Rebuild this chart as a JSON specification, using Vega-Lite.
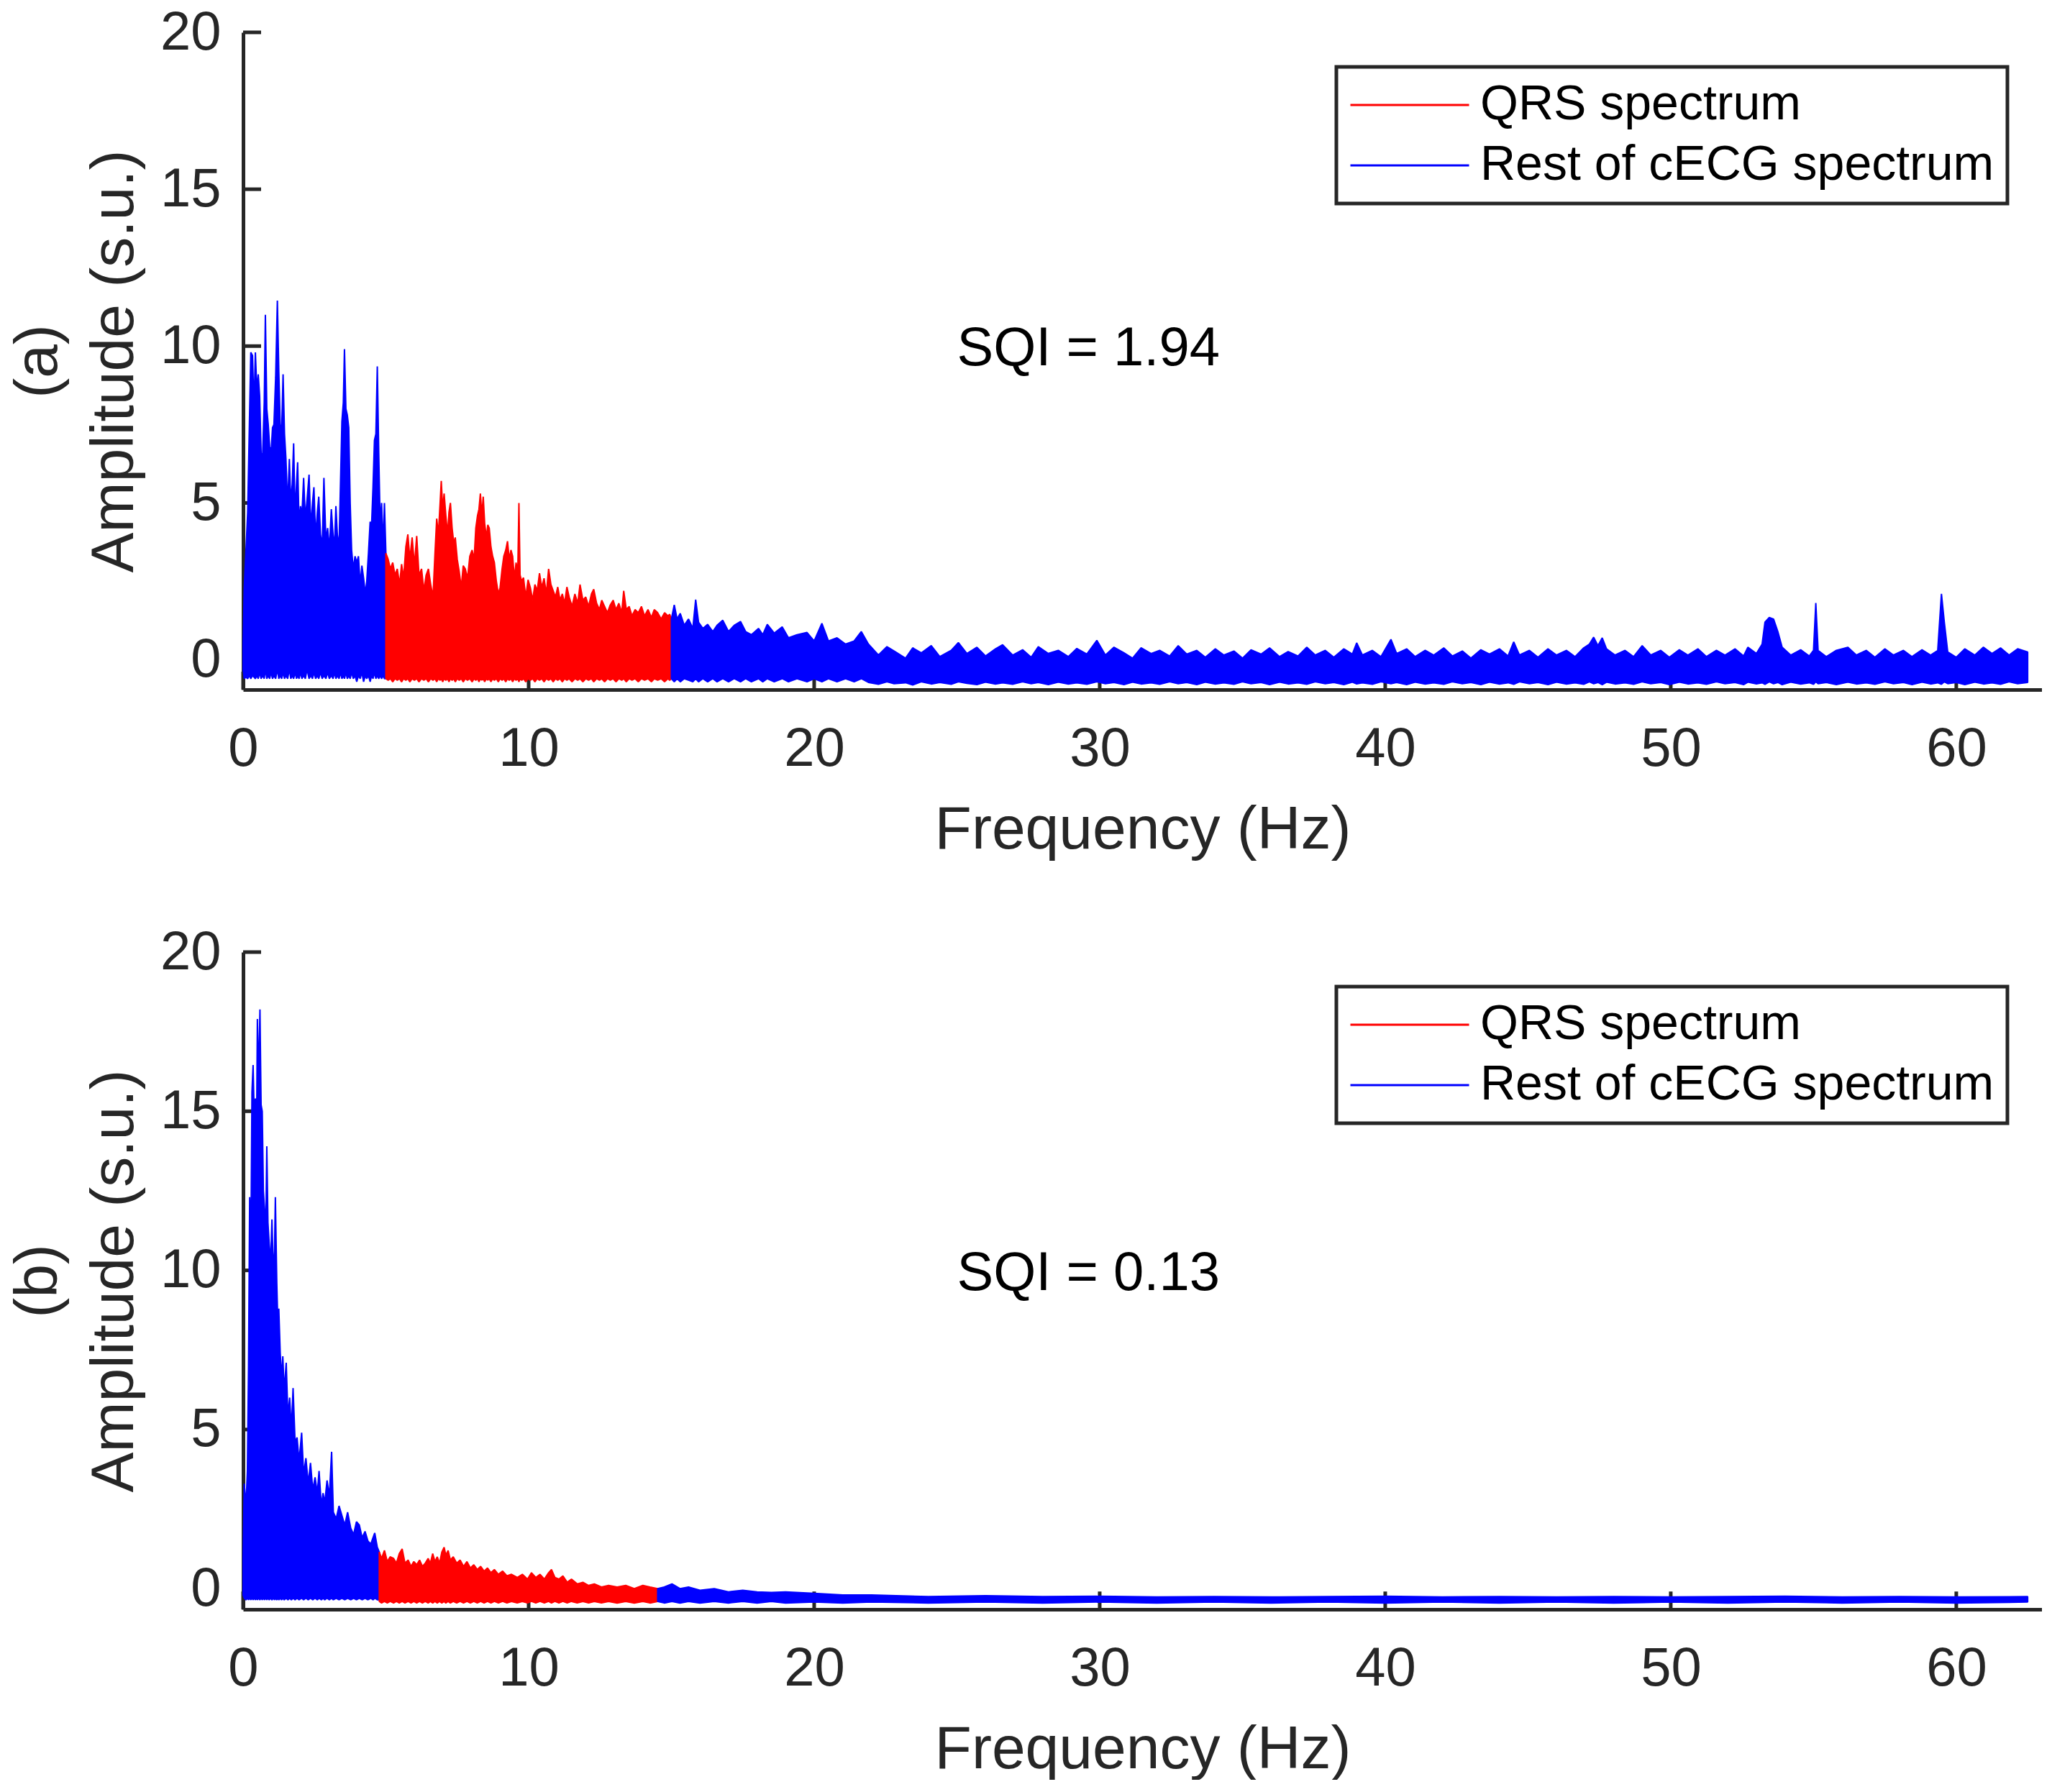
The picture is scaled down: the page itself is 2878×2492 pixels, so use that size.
{
"$schema": "https://vega.github.io/schema/vega-lite/v6.json",
"padding": {"left": 11, "top": 7, "right": 0, "bottom": 0},
"background": "white",
"datasets": {
"yt": [{"v":0},{"v":5},{"v":10},{"v":15},{"v":20}],
"xt": [{"v":0},{"v":10},{"v":20},{"v":30},{"v":40},{"v":50},{"v":60}],
"a1": [
{"f":0.00,"lo":-0.3,"hi":0.5},{"f":0.04,"lo":-0.6,"hi":2.3},{"f":0.10,"lo":-0.55,"hi":3.5},{"f":0.16,"lo":-0.6,"hi":4.7},{"f":0.22,"lo":-0.5,"hi":7.5},{"f":0.27,"lo":-0.6,"hi":9.8},{"f":0.33,"lo":-0.5,"hi":9.7},{"f":0.38,"lo":-0.55,"hi":8.0},{"f":0.43,"lo":-0.6,"hi":9.8},{"f":0.48,"lo":-0.5,"hi":8.6},{"f":0.53,"lo":-0.6,"hi":9.1},{"f":0.58,"lo":-0.4,"hi":8.4},{"f":0.63,"lo":-0.6,"hi":6.6},{"f":0.68,"lo":-0.5,"hi":6.4},{"f":0.74,"lo":-0.6,"hi":8.2},{"f":0.78,"lo":-0.3,"hi":11.0},{"f":0.83,"lo":-0.6,"hi":8.0},{"f":0.88,"lo":-0.5,"hi":7.5},{"f":0.93,"lo":-0.6,"hi":6.8},{"f":0.98,"lo":-0.4,"hi":6.6},{"f":1.03,"lo":-0.6,"hi":7.4},{"f":1.08,"lo":-0.5,"hi":7.5},{"f":1.14,"lo":-0.6,"hi":9.0},{"f":1.20,"lo":-0.3,"hi":11.45},{"f":1.25,"lo":-0.6,"hi":9.2},{"f":1.30,"lo":-0.5,"hi":7.5},{"f":1.35,"lo":-0.6,"hi":7.3},{"f":1.40,"lo":-0.4,"hi":9.1},{"f":1.45,"lo":-0.6,"hi":7.2},{"f":1.50,"lo":-0.5,"hi":6.4},{"f":1.56,"lo":-0.6,"hi":4.9},{"f":1.62,"lo":-0.3,"hi":6.4},{"f":1.67,"lo":-0.6,"hi":5.0},{"f":1.72,"lo":-0.5,"hi":5.6},{"f":1.77,"lo":-0.6,"hi":6.9},{"f":1.82,"lo":-0.4,"hi":4.6},{"f":1.87,"lo":-0.6,"hi":5.6},{"f":1.91,"lo":-0.5,"hi":6.3},{"f":1.96,"lo":-0.6,"hi":4.3},{"f":2.01,"lo":-0.4,"hi":4.9},{"f":2.06,"lo":-0.6,"hi":4.6},{"f":2.12,"lo":-0.5,"hi":5.8},{"f":2.18,"lo":-0.6,"hi":4.5},{"f":2.24,"lo":-0.3,"hi":5.1},{"f":2.31,"lo":-0.6,"hi":5.9},{"f":2.37,"lo":-0.5,"hi":4.2},{"f":2.43,"lo":-0.6,"hi":5.0},{"f":2.48,"lo":-0.4,"hi":5.5},{"f":2.54,"lo":-0.6,"hi":3.9},{"f":2.60,"lo":-0.5,"hi":4.7},{"f":2.65,"lo":-0.6,"hi":5.2},{"f":2.71,"lo":-0.4,"hi":4.0},{"f":2.77,"lo":-0.6,"hi":3.6},{"f":2.83,"lo":-0.5,"hi":5.8},{"f":2.90,"lo":-0.6,"hi":3.8},{"f":2.96,"lo":-0.4,"hi":4.2},{"f":3.02,"lo":-0.6,"hi":3.5},{"f":3.09,"lo":-0.5,"hi":4.8},{"f":3.15,"lo":-0.6,"hi":4.0},{"f":3.20,"lo":-0.4,"hi":3.6},{"f":3.25,"lo":-0.6,"hi":4.9},{"f":3.30,"lo":-0.5,"hi":4.0},{"f":3.36,"lo":-0.6,"hi":3.6},{"f":3.41,"lo":-0.4,"hi":5.6},{"f":3.46,"lo":-0.6,"hi":7.6},{"f":3.51,"lo":-0.5,"hi":8.2},{"f":3.55,"lo":-0.6,"hi":9.9},{"f":3.60,"lo":-0.4,"hi":8.0},{"f":3.65,"lo":-0.6,"hi":7.8},{"f":3.70,"lo":-0.5,"hi":7.4},{"f":3.75,"lo":-0.6,"hi":5.0},{"f":3.80,"lo":-0.4,"hi":3.5},{"f":3.86,"lo":-0.6,"hi":2.9},{"f":3.92,"lo":-0.5,"hi":3.3},{"f":3.98,"lo":-0.7,"hi":3.1},{"f":4.04,"lo":-0.5,"hi":3.3},{"f":4.10,"lo":-0.6,"hi":2.4},{"f":4.16,"lo":-0.4,"hi":3.0},{"f":4.22,"lo":-0.7,"hi":2.6},{"f":4.28,"lo":-0.5,"hi":2.1},{"f":4.33,"lo":-0.6,"hi":2.5},{"f":4.39,"lo":-0.5,"hi":3.4},{"f":4.45,"lo":-0.7,"hi":4.4},{"f":4.50,"lo":-0.5,"hi":4.3},{"f":4.55,"lo":-0.6,"hi":5.5},{"f":4.60,"lo":-0.4,"hi":7.0},{"f":4.65,"lo":-0.6,"hi":7.2},{"f":4.70,"lo":-0.5,"hi":9.35},{"f":4.75,"lo":-0.6,"hi":6.6},{"f":4.80,"lo":-0.5,"hi":4.3},{"f":4.85,"lo":-0.6,"hi":5.0},{"f":4.90,"lo":-0.5,"hi":3.6},{"f":4.95,"lo":-0.6,"hi":5.0},{"f":5.00,"lo":-0.6,"hi":3.4}
],
"a2": [
{"f":5.00,"lo":-0.6,"hi":3.4},{"f":5.08,"lo":-0.65,"hi":3.2},{"f":5.16,"lo":-0.6,"hi":2.9},{"f":5.24,"lo":-0.7,"hi":3.1},{"f":5.32,"lo":-0.6,"hi":2.7},{"f":5.40,"lo":-0.65,"hi":2.9},{"f":5.48,"lo":-0.6,"hi":2.4},{"f":5.55,"lo":-0.7,"hi":3.05},{"f":5.62,"lo":-0.6,"hi":2.6},{"f":5.70,"lo":-0.65,"hi":3.6},{"f":5.77,"lo":-0.6,"hi":4.0},{"f":5.84,"lo":-0.7,"hi":3.2},{"f":5.92,"lo":-0.6,"hi":3.9},{"f":6.00,"lo":-0.65,"hi":3.0},{"f":6.08,"lo":-0.6,"hi":3.95},{"f":6.16,"lo":-0.7,"hi":2.7},{"f":6.25,"lo":-0.6,"hi":2.9},{"f":6.33,"lo":-0.65,"hi":2.2},{"f":6.41,"lo":-0.6,"hi":2.7},{"f":6.49,"lo":-0.7,"hi":2.9},{"f":6.57,"lo":-0.6,"hi":2.4},{"f":6.65,"lo":-0.65,"hi":2.0},{"f":6.72,"lo":-0.6,"hi":3.4},{"f":6.78,"lo":-0.7,"hi":4.5},{"f":6.84,"lo":-0.6,"hi":4.0},{"f":6.90,"lo":-0.65,"hi":5.0},{"f":6.94,"lo":-0.6,"hi":5.7},{"f":6.99,"lo":-0.7,"hi":4.8},{"f":7.04,"lo":-0.6,"hi":5.3},{"f":7.10,"lo":-0.65,"hi":4.6},{"f":7.16,"lo":-0.6,"hi":4.0},{"f":7.21,"lo":-0.7,"hi":4.7},{"f":7.26,"lo":-0.6,"hi":5.0},{"f":7.32,"lo":-0.65,"hi":4.2},{"f":7.38,"lo":-0.6,"hi":3.7},{"f":7.43,"lo":-0.7,"hi":3.9},{"f":7.50,"lo":-0.6,"hi":3.2},{"f":7.57,"lo":-0.65,"hi":2.8},{"f":7.64,"lo":-0.6,"hi":2.3},{"f":7.71,"lo":-0.7,"hi":3.0},{"f":7.78,"lo":-0.6,"hi":2.9},{"f":7.86,"lo":-0.65,"hi":2.6},{"f":7.94,"lo":-0.6,"hi":3.3},{"f":8.02,"lo":-0.7,"hi":3.5},{"f":8.09,"lo":-0.6,"hi":3.2},{"f":8.15,"lo":-0.65,"hi":4.2},{"f":8.21,"lo":-0.6,"hi":4.6},{"f":8.26,"lo":-0.7,"hi":4.8},{"f":8.31,"lo":-0.6,"hi":5.3},{"f":8.36,"lo":-0.65,"hi":4.6},{"f":8.41,"lo":-0.6,"hi":5.2},{"f":8.46,"lo":-0.7,"hi":4.35},{"f":8.52,"lo":-0.6,"hi":3.9},{"f":8.57,"lo":-0.65,"hi":4.3},{"f":8.62,"lo":-0.6,"hi":4.2},{"f":8.68,"lo":-0.7,"hi":3.6},{"f":8.74,"lo":-0.6,"hi":3.3},{"f":8.80,"lo":-0.65,"hi":3.1},{"f":8.87,"lo":-0.6,"hi":2.5},{"f":8.94,"lo":-0.7,"hi":2.1},{"f":9.00,"lo":-0.6,"hi":2.3},{"f":9.07,"lo":-0.65,"hi":2.9},{"f":9.13,"lo":-0.6,"hi":3.3},{"f":9.20,"lo":-0.7,"hi":3.5},{"f":9.26,"lo":-0.6,"hi":3.78},{"f":9.32,"lo":-0.65,"hi":3.2},{"f":9.38,"lo":-0.6,"hi":3.5},{"f":9.44,"lo":-0.7,"hi":3.3},{"f":9.50,"lo":-0.6,"hi":2.6},{"f":9.56,"lo":-0.65,"hi":3.1},{"f":9.62,"lo":-0.6,"hi":2.8},{"f":9.66,"lo":-0.7,"hi":5.0},{"f":9.70,"lo":-0.6,"hi":2.7},{"f":9.76,"lo":-0.65,"hi":2.5},{"f":9.82,"lo":-0.6,"hi":2.62},{"f":9.90,"lo":-0.7,"hi":2.0},{"f":9.98,"lo":-0.6,"hi":2.55},{"f":10.06,"lo":-0.65,"hi":2.3},{"f":10.14,"lo":-0.6,"hi":1.9},{"f":10.22,"lo":-0.7,"hi":2.4},{"f":10.30,"lo":-0.6,"hi":2.2},{"f":10.38,"lo":-0.65,"hi":2.76},{"f":10.46,"lo":-0.6,"hi":2.3},{"f":10.54,"lo":-0.7,"hi":2.6},{"f":10.62,"lo":-0.6,"hi":2.1},{"f":10.70,"lo":-0.65,"hi":2.9},{"f":10.78,"lo":-0.6,"hi":2.4},{"f":10.86,"lo":-0.7,"hi":2.2},{"f":10.94,"lo":-0.6,"hi":2.0},{"f":11.02,"lo":-0.65,"hi":2.32},{"f":11.10,"lo":-0.6,"hi":1.9},{"f":11.18,"lo":-0.7,"hi":2.1},{"f":11.26,"lo":-0.6,"hi":1.8},{"f":11.34,"lo":-0.65,"hi":2.32},{"f":11.42,"lo":-0.6,"hi":2.0},{"f":11.52,"lo":-0.7,"hi":1.7},{"f":11.62,"lo":-0.6,"hi":2.1},{"f":11.72,"lo":-0.65,"hi":1.8},{"f":11.80,"lo":-0.6,"hi":2.4},{"f":11.90,"lo":-0.7,"hi":1.9},{"f":12.00,"lo":-0.6,"hi":2.0},{"f":12.10,"lo":-0.65,"hi":1.7},{"f":12.20,"lo":-0.6,"hi":2.1},{"f":12.28,"lo":-0.7,"hi":2.25},{"f":12.38,"lo":-0.6,"hi":1.8},{"f":12.48,"lo":-0.65,"hi":1.6},{"f":12.56,"lo":-0.6,"hi":1.9},{"f":12.66,"lo":-0.7,"hi":1.7},{"f":12.76,"lo":-0.6,"hi":1.5},{"f":12.86,"lo":-0.65,"hi":1.75},{"f":12.96,"lo":-0.6,"hi":1.9},{"f":13.06,"lo":-0.7,"hi":1.6},{"f":13.16,"lo":-0.6,"hi":1.8},{"f":13.26,"lo":-0.65,"hi":1.5},{"f":13.33,"lo":-0.6,"hi":2.2},{"f":13.42,"lo":-0.7,"hi":1.6},{"f":13.52,"lo":-0.6,"hi":1.7},{"f":13.62,"lo":-0.65,"hi":1.4},{"f":13.73,"lo":-0.6,"hi":1.6},{"f":13.84,"lo":-0.7,"hi":1.5},{"f":13.95,"lo":-0.6,"hi":1.7},{"f":14.06,"lo":-0.65,"hi":1.4},{"f":14.18,"lo":-0.6,"hi":1.6},{"f":14.30,"lo":-0.7,"hi":1.35},{"f":14.40,"lo":-0.6,"hi":1.6},{"f":14.52,"lo":-0.65,"hi":1.5},{"f":14.64,"lo":-0.6,"hi":1.3},{"f":14.76,"lo":-0.7,"hi":1.5},{"f":14.88,"lo":-0.6,"hi":1.4},{"f":14.94,"lo":-0.65,"hi":1.45},{"f":15.00,"lo":-0.6,"hi":1.3}
],
"a3": [
{"f":15.00,"lo":-0.6,"hi":1.3},{"f":15.10,"lo":-0.7,"hi":1.75},{"f":15.20,"lo":-0.6,"hi":1.3},{"f":15.31,"lo":-0.7,"hi":1.48},{"f":15.45,"lo":-0.6,"hi":1.1},{"f":15.60,"lo":-0.65,"hi":1.3},{"f":15.75,"lo":-0.7,"hi":1.0},{"f":15.85,"lo":-0.6,"hi":1.92},{"f":15.95,"lo":-0.7,"hi":1.2},{"f":16.10,"lo":-0.6,"hi":1.0},{"f":16.27,"lo":-0.7,"hi":1.13},{"f":16.45,"lo":-0.6,"hi":0.9},{"f":16.60,"lo":-0.7,"hi":1.1},{"f":16.80,"lo":-0.6,"hi":1.26},{"f":17.00,"lo":-0.7,"hi":0.9},{"f":17.20,"lo":-0.6,"hi":1.1},{"f":17.42,"lo":-0.7,"hi":1.22},{"f":17.60,"lo":-0.6,"hi":0.9},{"f":17.80,"lo":-0.7,"hi":0.8},{"f":18.05,"lo":-0.6,"hi":1.0},{"f":18.20,"lo":-0.7,"hi":0.8},{"f":18.36,"lo":-0.6,"hi":1.13},{"f":18.60,"lo":-0.7,"hi":0.85},{"f":18.88,"lo":-0.6,"hi":1.05},{"f":19.10,"lo":-0.7,"hi":0.7},{"f":19.40,"lo":-0.6,"hi":0.8},{"f":19.75,"lo":-0.7,"hi":0.87},{"f":20.00,"lo":-0.6,"hi":0.6},{"f":20.27,"lo":-0.7,"hi":1.16},{"f":20.50,"lo":-0.6,"hi":0.6},{"f":20.80,"lo":-0.7,"hi":0.7},{"f":21.10,"lo":-0.6,"hi":0.5},{"f":21.40,"lo":-0.7,"hi":0.6},{"f":21.65,"lo":-0.6,"hi":0.9},
{"f":21.90,"lo":-0.72,"hi":0.5},{"f":22.25,"lo":-0.78,"hi":0.15},{"f":22.55,"lo":-0.7,"hi":0.42},{"f":22.80,"lo":-0.76,"hi":0.28},{"f":23.20,"lo":-0.73,"hi":0.05},{"f":23.45,"lo":-0.8,"hi":0.38},{"f":23.75,"lo":-0.7,"hi":0.22},{"f":24.10,"lo":-0.77,"hi":0.45},{"f":24.40,"lo":-0.72,"hi":0.1},{"f":24.80,"lo":-0.78,"hi":0.3},{"f":25.05,"lo":-0.7,"hi":0.55},{"f":25.35,"lo":-0.75,"hi":0.2},{"f":25.70,"lo":-0.79,"hi":0.4},{"f":26.00,"lo":-0.71,"hi":0.12},{"f":26.35,"lo":-0.77,"hi":0.35},{"f":26.60,"lo":-0.73,"hi":0.48},{"f":26.95,"lo":-0.78,"hi":0.15},{"f":27.30,"lo":-0.7,"hi":0.32},{"f":27.60,"lo":-0.76,"hi":0.08},{"f":27.85,"lo":-0.72,"hi":0.42},{"f":28.20,"lo":-0.79,"hi":0.2},{"f":28.55,"lo":-0.71,"hi":0.3},{"f":28.90,"lo":-0.77,"hi":0.1},{"f":29.20,"lo":-0.73,"hi":0.36},{"f":29.55,"lo":-0.78,"hi":0.18},{"f":29.90,"lo":-0.7,"hi":0.62},{"f":30.20,"lo":-0.76,"hi":0.15},{"f":30.50,"lo":-0.72,"hi":0.4},{"f":30.85,"lo":-0.79,"hi":0.22},{"f":31.15,"lo":-0.71,"hi":0.05},{"f":31.45,"lo":-0.77,"hi":0.38},{"f":31.80,"lo":-0.73,"hi":0.2},{"f":32.10,"lo":-0.78,"hi":0.3},{"f":32.45,"lo":-0.7,"hi":0.12},{"f":32.75,"lo":-0.76,"hi":0.45},{"f":33.05,"lo":-0.72,"hi":0.18},{"f":33.40,"lo":-0.79,"hi":0.3},{"f":33.70,"lo":-0.71,"hi":0.08},{"f":34.05,"lo":-0.77,"hi":0.35},{"f":34.35,"lo":-0.73,"hi":0.15},{"f":34.70,"lo":-0.78,"hi":0.28},{"f":35.00,"lo":-0.7,"hi":0.05},{"f":35.30,"lo":-0.76,"hi":0.32},{"f":35.65,"lo":-0.72,"hi":0.18},{"f":35.95,"lo":-0.79,"hi":0.38},{"f":36.30,"lo":-0.71,"hi":0.1},{"f":36.60,"lo":-0.77,"hi":0.26},{"f":36.95,"lo":-0.73,"hi":0.12},{"f":37.25,"lo":-0.78,"hi":0.4},{"f":37.55,"lo":-0.7,"hi":0.15},{"f":37.90,"lo":-0.76,"hi":0.3},{"f":38.20,"lo":-0.72,"hi":0.08},{"f":38.55,"lo":-0.79,"hi":0.35},{"f":38.85,"lo":-0.71,"hi":0.18},{"f":39.00,"lo":-0.77,"hi":0.54},{"f":39.20,"lo":-0.73,"hi":0.15},{"f":39.55,"lo":-0.78,"hi":0.3},{"f":39.85,"lo":-0.7,"hi":0.1},{"f":40.20,"lo":-0.76,"hi":0.65},{"f":40.40,"lo":-0.72,"hi":0.2},{"f":40.75,"lo":-0.79,"hi":0.35},{"f":41.05,"lo":-0.71,"hi":0.1},{"f":41.40,"lo":-0.77,"hi":0.3},{"f":41.70,"lo":-0.73,"hi":0.15},{"f":42.05,"lo":-0.78,"hi":0.38},{"f":42.35,"lo":-0.7,"hi":0.12},{"f":42.70,"lo":-0.76,"hi":0.28},{"f":43.00,"lo":-0.72,"hi":0.05},{"f":43.35,"lo":-0.79,"hi":0.32},{"f":43.65,"lo":-0.71,"hi":0.18},{"f":44.00,"lo":-0.77,"hi":0.35},{"f":44.30,"lo":-0.73,"hi":0.12},{"f":44.50,"lo":-0.78,"hi":0.57},{"f":44.70,"lo":-0.7,"hi":0.15},{"f":45.05,"lo":-0.76,"hi":0.3},{"f":45.35,"lo":-0.72,"hi":0.08},{"f":45.70,"lo":-0.79,"hi":0.35},{"f":46.00,"lo":-0.71,"hi":0.15},{"f":46.35,"lo":-0.77,"hi":0.3},{"f":46.65,"lo":-0.73,"hi":0.1},{"f":46.95,"lo":-0.78,"hi":0.38},{"f":47.15,"lo":-0.7,"hi":0.5},{"f":47.30,"lo":-0.76,"hi":0.72},{"f":47.45,"lo":-0.72,"hi":0.45},{"f":47.60,"lo":-0.79,"hi":0.7},{"f":47.75,"lo":-0.71,"hi":0.35},{"f":48.05,"lo":-0.77,"hi":0.15},{"f":48.40,"lo":-0.73,"hi":0.3},{"f":48.70,"lo":-0.78,"hi":0.1},{"f":49.00,"lo":-0.7,"hi":0.45},{"f":49.30,"lo":-0.76,"hi":0.15},{"f":49.65,"lo":-0.72,"hi":0.3},{"f":49.95,"lo":-0.79,"hi":0.08},{"f":50.30,"lo":-0.71,"hi":0.32},{"f":50.60,"lo":-0.77,"hi":0.15},{"f":50.95,"lo":-0.73,"hi":0.35},{"f":51.25,"lo":-0.78,"hi":0.1},{"f":51.60,"lo":-0.7,"hi":0.3},{"f":51.90,"lo":-0.76,"hi":0.15},{"f":52.25,"lo":-0.72,"hi":0.35},{"f":52.55,"lo":-0.79,"hi":0.12},{"f":52.70,"lo":-0.71,"hi":0.4},{"f":53.00,"lo":-0.77,"hi":0.2},{"f":53.20,"lo":-0.73,"hi":0.5},{"f":53.30,"lo":-0.78,"hi":1.2},{"f":53.45,"lo":-0.7,"hi":1.35},{"f":53.60,"lo":-0.76,"hi":1.3},{"f":53.75,"lo":-0.72,"hi":0.9},{"f":53.90,"lo":-0.79,"hi":0.4},{"f":54.20,"lo":-0.71,"hi":0.15},{"f":54.55,"lo":-0.77,"hi":0.32},{"f":54.85,"lo":-0.73,"hi":0.12},{"f":55.00,"lo":-0.78,"hi":0.3},{"f":55.08,"lo":-0.7,"hi":1.81},{"f":55.16,"lo":-0.76,"hi":0.3},{"f":55.45,"lo":-0.72,"hi":0.1},{"f":55.80,"lo":-0.79,"hi":0.3},{"f":56.20,"lo":-0.71,"hi":0.4},{"f":56.50,"lo":-0.77,"hi":0.15},{"f":56.85,"lo":-0.73,"hi":0.3},{"f":57.15,"lo":-0.78,"hi":0.08},{"f":57.50,"lo":-0.7,"hi":0.35},{"f":57.80,"lo":-0.76,"hi":0.15},{"f":58.15,"lo":-0.72,"hi":0.3},{"f":58.45,"lo":-0.79,"hi":0.1},{"f":58.80,"lo":-0.71,"hi":0.32},{"f":59.10,"lo":-0.77,"hi":0.15},{"f":59.35,"lo":-0.73,"hi":0.3},{"f":59.48,"lo":-0.78,"hi":2.1},{"f":59.58,"lo":-0.7,"hi":1.2},{"f":59.70,"lo":-0.76,"hi":0.25},{"f":60.00,"lo":-0.72,"hi":0.08},{"f":60.30,"lo":-0.79,"hi":0.35},{"f":60.65,"lo":-0.71,"hi":0.15},{"f":60.95,"lo":-0.77,"hi":0.4},{"f":61.25,"lo":-0.73,"hi":0.2},{"f":61.55,"lo":-0.78,"hi":0.38},{"f":61.85,"lo":-0.7,"hi":0.15},{"f":62.15,"lo":-0.76,"hi":0.35},{"f":62.50,"lo":-0.72,"hi":0.25}
],
"b1": [
{"f":0.00,"lo":-0.2,"hi":1.0},{"f":0.04,"lo":-0.3,"hi":3.3},{"f":0.10,"lo":-0.35,"hi":2.6},{"f":0.15,"lo":-0.3,"hi":3.7},{"f":0.19,"lo":-0.35,"hi":7.0},{"f":0.23,"lo":-0.3,"hi":12.3},{"f":0.27,"lo":-0.35,"hi":10.5},{"f":0.31,"lo":-0.3,"hi":15.6},{"f":0.35,"lo":-0.35,"hi":16.45},{"f":0.39,"lo":-0.3,"hi":14.8},{"f":0.43,"lo":-0.35,"hi":15.4},{"f":0.47,"lo":-0.3,"hi":14.2},{"f":0.50,"lo":-0.35,"hi":17.9},{"f":0.54,"lo":-0.3,"hi":16.0},{"f":0.59,"lo":-0.35,"hi":18.2},{"f":0.63,"lo":-0.3,"hi":15.2},{"f":0.67,"lo":-0.35,"hi":15.0},{"f":0.71,"lo":-0.3,"hi":12.5},{"f":0.75,"lo":-0.35,"hi":11.95},{"f":0.79,"lo":-0.3,"hi":11.0},{"f":0.83,"lo":-0.35,"hi":13.9},{"f":0.87,"lo":-0.3,"hi":11.5},{"f":0.91,"lo":-0.35,"hi":10.9},{"f":0.96,"lo":-0.3,"hi":10.2},{"f":1.01,"lo":-0.35,"hi":11.6},{"f":1.06,"lo":-0.3,"hi":9.9},{"f":1.10,"lo":-0.35,"hi":10.6},{"f":1.13,"lo":-0.3,"hi":12.3},{"f":1.18,"lo":-0.35,"hi":9.6},{"f":1.22,"lo":-0.3,"hi":8.2},{"f":1.25,"lo":-0.35,"hi":8.8},{"f":1.30,"lo":-0.3,"hi":7.4},{"f":1.35,"lo":-0.35,"hi":6.6},{"f":1.39,"lo":-0.3,"hi":7.3},{"f":1.44,"lo":-0.35,"hi":6.2},{"f":1.51,"lo":-0.3,"hi":7.1},{"f":1.57,"lo":-0.35,"hi":5.4},{"f":1.63,"lo":-0.3,"hi":6.0},{"f":1.69,"lo":-0.35,"hi":5.0},{"f":1.75,"lo":-0.3,"hi":6.3},{"f":1.82,"lo":-0.35,"hi":4.6},{"f":1.89,"lo":-0.3,"hi":4.75},{"f":1.96,"lo":-0.35,"hi":4.0},{"f":2.05,"lo":-0.3,"hi":4.9},{"f":2.12,"lo":-0.35,"hi":3.6},{"f":2.20,"lo":-0.3,"hi":4.1},{"f":2.28,"lo":-0.35,"hi":3.3},{"f":2.36,"lo":-0.3,"hi":3.95},{"f":2.44,"lo":-0.35,"hi":3.1},{"f":2.52,"lo":-0.3,"hi":3.5},{"f":2.60,"lo":-0.35,"hi":3.0},{"f":2.66,"lo":-0.3,"hi":3.7},{"f":2.74,"lo":-0.35,"hi":2.6},{"f":2.80,"lo":-0.3,"hi":3.0},{"f":2.86,"lo":-0.35,"hi":2.7},{"f":2.94,"lo":-0.3,"hi":3.4},{"f":3.02,"lo":-0.35,"hi":2.9},{"f":3.10,"lo":-0.3,"hi":4.3},{"f":3.16,"lo":-0.35,"hi":2.4},{"f":3.26,"lo":-0.3,"hi":2.2},{"f":3.36,"lo":-0.35,"hi":2.6},{"f":3.46,"lo":-0.3,"hi":2.3},{"f":3.56,"lo":-0.35,"hi":2.0},{"f":3.66,"lo":-0.3,"hi":2.4},{"f":3.77,"lo":-0.35,"hi":1.9},{"f":3.87,"lo":-0.3,"hi":1.7},{"f":3.97,"lo":-0.35,"hi":2.1},{"f":4.07,"lo":-0.3,"hi":2.0},{"f":4.17,"lo":-0.35,"hi":1.6},{"f":4.27,"lo":-0.3,"hi":1.8},{"f":4.37,"lo":-0.35,"hi":1.5},{"f":4.47,"lo":-0.3,"hi":1.4},{"f":4.55,"lo":-0.35,"hi":1.6},{"f":4.61,"lo":-0.3,"hi":1.75},{"f":4.70,"lo":-0.35,"hi":1.3},{"f":4.77,"lo":-0.35,"hi":1.15}
],
"b2": [
{"f":4.77,"lo":-0.4,"hi":1.15},{"f":4.85,"lo":-0.45,"hi":0.95},{"f":4.95,"lo":-0.4,"hi":1.2},{"f":5.05,"lo":-0.45,"hi":0.85},{"f":5.15,"lo":-0.4,"hi":1.0},{"f":5.27,"lo":-0.45,"hi":0.95},{"f":5.37,"lo":-0.4,"hi":0.8},{"f":5.47,"lo":-0.45,"hi":1.1},{"f":5.57,"lo":-0.4,"hi":1.25},{"f":5.67,"lo":-0.45,"hi":0.8},{"f":5.78,"lo":-0.4,"hi":0.9},{"f":5.88,"lo":-0.45,"hi":0.7},{"f":5.98,"lo":-0.4,"hi":0.85},{"f":6.08,"lo":-0.45,"hi":0.75},{"f":6.18,"lo":-0.4,"hi":0.9},{"f":6.28,"lo":-0.45,"hi":0.7},{"f":6.38,"lo":-0.4,"hi":0.8},{"f":6.48,"lo":-0.45,"hi":0.95},{"f":6.56,"lo":-0.4,"hi":0.8},{"f":6.64,"lo":-0.45,"hi":1.1},{"f":6.72,"lo":-0.4,"hi":0.85},{"f":6.80,"lo":-0.45,"hi":1.0},{"f":6.88,"lo":-0.4,"hi":0.8},{"f":6.96,"lo":-0.45,"hi":1.15},{"f":7.04,"lo":-0.4,"hi":1.3},{"f":7.10,"lo":-0.45,"hi":1.05},{"f":7.18,"lo":-0.4,"hi":1.2},{"f":7.26,"lo":-0.45,"hi":0.9},{"f":7.36,"lo":-0.4,"hi":1.0},{"f":7.48,"lo":-0.45,"hi":0.8},{"f":7.60,"lo":-0.4,"hi":0.9},{"f":7.72,"lo":-0.45,"hi":0.7},{"f":7.84,"lo":-0.4,"hi":0.85},{"f":7.96,"lo":-0.45,"hi":0.65},{"f":8.08,"lo":-0.4,"hi":0.75},{"f":8.20,"lo":-0.45,"hi":0.6},{"f":8.32,"lo":-0.4,"hi":0.7},{"f":8.44,"lo":-0.45,"hi":0.55},{"f":8.56,"lo":-0.4,"hi":0.65},{"f":8.68,"lo":-0.45,"hi":0.5},{"f":8.80,"lo":-0.4,"hi":0.6},{"f":8.94,"lo":-0.45,"hi":0.45},{"f":9.09,"lo":-0.4,"hi":0.55},{"f":9.24,"lo":-0.45,"hi":0.4},{"f":9.40,"lo":-0.4,"hi":0.45},{"f":9.60,"lo":-0.45,"hi":0.35},{"f":9.78,"lo":-0.4,"hi":0.45},{"f":9.96,"lo":-0.45,"hi":0.3},{"f":10.10,"lo":-0.4,"hi":0.5},{"f":10.25,"lo":-0.45,"hi":0.35},{"f":10.40,"lo":-0.4,"hi":0.45},{"f":10.55,"lo":-0.45,"hi":0.3},{"f":10.70,"lo":-0.4,"hi":0.5},{"f":10.80,"lo":-0.45,"hi":0.6},{"f":10.92,"lo":-0.4,"hi":0.35},{"f":11.06,"lo":-0.45,"hi":0.3},{"f":11.20,"lo":-0.4,"hi":0.4},{"f":11.35,"lo":-0.45,"hi":0.2},{"f":11.50,"lo":-0.4,"hi":0.3},{"f":11.70,"lo":-0.45,"hi":0.15},{"f":11.90,"lo":-0.4,"hi":0.2},{"f":12.10,"lo":-0.45,"hi":0.1},{"f":12.30,"lo":-0.4,"hi":0.15},{"f":12.55,"lo":-0.45,"hi":0.05},{"f":12.80,"lo":-0.4,"hi":0.1},{"f":13.10,"lo":-0.45,"hi":0.05},{"f":13.40,"lo":-0.4,"hi":0.1},{"f":13.70,"lo":-0.45,"hi":0.0},{"f":14.00,"lo":-0.4,"hi":0.1},{"f":14.25,"lo":-0.45,"hi":0.05},{"f":14.52,"lo":-0.4,"hi":0.0}
],
"b3": [
{"f":14.52,"lo":-0.4,"hi":0.0},{"f":14.75,"lo":-0.45,"hi":0.05},{"f":15.02,"lo":-0.4,"hi":0.15},{"f":15.30,"lo":-0.45,"hi":0.0},{"f":15.60,"lo":-0.4,"hi":0.05},{"f":16.00,"lo":-0.45,"hi":-0.05},{"f":16.50,"lo":-0.4,"hi":0.0},{"f":17.00,"lo":-0.45,"hi":-0.1},{"f":17.50,"lo":-0.4,"hi":-0.05},{"f":18.00,"lo":-0.45,"hi":-0.1},{"f":18.50,"lo":-0.4,"hi":-0.12},{"f":19.00,"lo":-0.45,"hi":-0.1},{"f":20.00,"lo":-0.42,"hi":-0.15},{"f":21.00,"lo":-0.45,"hi":-0.2},{"f":22.00,"lo":-0.42,"hi":-0.2},{"f":24.00,"lo":-0.45,"hi":-0.25},{"f":26.00,"lo":-0.42,"hi":-0.22},{"f":28.00,"lo":-0.45,"hi":-0.25},{"f":30.00,"lo":-0.42,"hi":-0.24},{"f":32.00,"lo":-0.45,"hi":-0.26},{"f":34.00,"lo":-0.42,"hi":-0.25},{"f":36.00,"lo":-0.45,"hi":-0.26},{"f":38.00,"lo":-0.42,"hi":-0.25},{"f":40.00,"lo":-0.45,"hi":-0.24},{"f":42.00,"lo":-0.42,"hi":-0.26},{"f":44.00,"lo":-0.45,"hi":-0.25},{"f":46.00,"lo":-0.42,"hi":-0.26},{"f":48.00,"lo":-0.45,"hi":-0.25},{"f":50.00,"lo":-0.42,"hi":-0.26},{"f":52.00,"lo":-0.45,"hi":-0.25},{"f":54.00,"lo":-0.42,"hi":-0.24},{"f":56.00,"lo":-0.45,"hi":-0.26},{"f":58.00,"lo":-0.42,"hi":-0.25},{"f":60.00,"lo":-0.45,"hi":-0.26},{"f":62.50,"lo":-0.42,"hi":-0.25}
]
},
"vconcat": [
{
"width": 2501, "height": 914,
"layer": [
{"data": {"name": "xt"}, "mark": {"type": "rule", "color": "#262626", "strokeWidth": 5},
 "encoding": {
  "x": {"field": "v", "type": "quantitative", "scale": {"domain": [0, 63], "nice": false, "zero": false}, "title": "Frequency (Hz)", "axis": {"values": [0,10,20,30,40,50,60], "format": "d", "labelPadding": 45, "titlePadding": 34, "labelFlush": false, "labelOverlap": false}},
  "y": {"datum": -0.95, "type": "quantitative", "scale": {"domain": [-0.95, 20], "nice": false, "zero": false}},
  "y2": {"datum": -0.38}
 }},
{"data": {"name": "yt"}, "mark": {"type": "rule", "color": "#262626", "strokeWidth": 5},
 "encoding": {
  "y": {"field": "v", "type": "quantitative", "title": ["(a)", "Amplitude (s.u.)"], "axis": {"values": [0,5,10,15,20], "format": "d", "labelPadding": 31, "titlePadding": 20, "titleLineHeight": 106}},
  "x": {"datum": 0, "type": "quantitative"},
  "x2": {"datum": 0.63}
 }},
{"data": {"name": "a1"}, "mark": {"type": "area", "fill": "#0000ff", "strokeWidth": 2, "opacity": 1, "strokeJoin": "bevel"},
 "encoding": {
  "x": {"field": "f", "type": "quantitative", "title": "Frequency (Hz)"},
  "y": {"field": "lo", "type": "quantitative", "title": ["(a)", "Amplitude (s.u.)"]},
  "y2": {"field": "hi"},
  "stroke": {"datum": "Rest of cECG spectrum", "type": "nominal", "scale": {"domain": ["QRS spectrum", "Rest of cECG spectrum"], "range": ["#ff0000", "#0000ff"]}, "legend": {"title": null, "symbolType": "stroke"}}
 }},
{"data": {"name": "a2"}, "mark": {"type": "area", "fill": "#ff0000", "strokeWidth": 2, "opacity": 1, "strokeJoin": "bevel"},
 "encoding": {
  "x": {"field": "f", "type": "quantitative", "title": "Frequency (Hz)"},
  "y": {"field": "lo", "type": "quantitative", "title": ["(a)", "Amplitude (s.u.)"]},
  "y2": {"field": "hi"},
  "stroke": {"datum": "QRS spectrum", "type": "nominal"}
 }},
{"data": {"name": "a3"}, "mark": {"type": "area", "fill": "#0000ff", "strokeWidth": 2, "opacity": 1, "strokeJoin": "bevel"},
 "encoding": {
  "x": {"field": "f", "type": "quantitative", "title": "Frequency (Hz)"},
  "y": {"field": "lo", "type": "quantitative", "title": ["(a)", "Amplitude (s.u.)"]},
  "y2": {"field": "hi"},
  "stroke": {"datum": "Rest of cECG spectrum", "type": "nominal"}
 }},
{"data": {"values": [{}]}, "mark": {"type": "text", "text": "SQI = 1.94", "align": "left", "baseline": "middle", "dy": 4, "fontSize": 76, "font": "Liberation Sans", "color": "#000000"},
 "encoding": {"x": {"datum": 25}, "y": {"datum": 10}}}
]
},
{
"width": 2501, "height": 914,
"layer": [
{"data": {"name": "xt"}, "mark": {"type": "rule", "color": "#262626", "strokeWidth": 5},
 "encoding": {
  "x": {"field": "v", "type": "quantitative", "scale": {"domain": [0, 63], "nice": false, "zero": false}, "title": "Frequency (Hz)", "axis": {"values": [0,10,20,30,40,50,60], "format": "d", "labelPadding": 45, "titlePadding": 34, "labelFlush": false, "labelOverlap": false}},
  "y": {"datum": -0.65, "type": "quantitative", "scale": {"domain": [-0.65, 20], "nice": false, "zero": false}},
  "y2": {"datum": -0.09}
 }},
{"data": {"name": "yt"}, "mark": {"type": "rule", "color": "#262626", "strokeWidth": 5},
 "encoding": {
  "y": {"field": "v", "type": "quantitative", "title": ["(b)", "Amplitude (s.u.)"], "axis": {"values": [0,5,10,15,20], "format": "d", "labelPadding": 31, "titlePadding": 20, "titleLineHeight": 106}},
  "x": {"datum": 0, "type": "quantitative"},
  "x2": {"datum": 0.63}
 }},
{"data": {"name": "b1"}, "mark": {"type": "area", "fill": "#0000ff", "strokeWidth": 2, "opacity": 1, "strokeJoin": "bevel"},
 "encoding": {
  "x": {"field": "f", "type": "quantitative", "title": "Frequency (Hz)"},
  "y": {"field": "lo", "type": "quantitative", "title": ["(b)", "Amplitude (s.u.)"]},
  "y2": {"field": "hi"},
  "stroke": {"datum": "Rest of cECG spectrum", "type": "nominal", "scale": {"domain": ["QRS spectrum", "Rest of cECG spectrum"], "range": ["#ff0000", "#0000ff"]}, "legend": {"title": null, "symbolType": "stroke"}}
 }},
{"data": {"name": "b2"}, "mark": {"type": "area", "fill": "#ff0000", "strokeWidth": 2, "opacity": 1, "strokeJoin": "bevel"},
 "encoding": {
  "x": {"field": "f", "type": "quantitative", "title": "Frequency (Hz)"},
  "y": {"field": "lo", "type": "quantitative", "title": ["(b)", "Amplitude (s.u.)"]},
  "y2": {"field": "hi"},
  "stroke": {"datum": "QRS spectrum", "type": "nominal"}
 }},
{"data": {"name": "b3"}, "mark": {"type": "area", "fill": "#0000ff", "strokeWidth": 2, "opacity": 1, "strokeJoin": "bevel"},
 "encoding": {
  "x": {"field": "f", "type": "quantitative", "title": "Frequency (Hz)"},
  "y": {"field": "lo", "type": "quantitative", "title": ["(b)", "Amplitude (s.u.)"]},
  "y2": {"field": "hi"},
  "stroke": {"datum": "Rest of cECG spectrum", "type": "nominal"}
 }},
{"data": {"values": [{}]}, "mark": {"type": "text", "text": "SQI = 0.13", "align": "left", "baseline": "middle", "dy": 4, "fontSize": 76, "font": "Liberation Sans", "color": "#000000"},
 "encoding": {"x": {"datum": 25}, "y": {"datum": 10}}}
]
}
],
"spacing": 365,
"bounds": "flush",
"resolve": {"scale": {"stroke": "independent"}, "legend": {"stroke": "independent"}},
"config": {
 "view": {"stroke": null},
 "font": "Liberation Sans",
 "axis": {"grid": false, "ticks": false, "domainColor": "#262626", "domainWidth": 5, "labelFont": "Liberation Sans", "labelFontSize": 76, "labelColor": "#262626", "titleFont": "Liberation Sans", "titleFontSize": 84, "titleFontWeight": "normal", "titleColor": "#262626"},
 "legend": {"orient": "top-right", "offset": 48, "padding": 18, "strokeColor": "#262626", "strokeWidth": 5, "fillColor": "#ffffff", "symbolType": "stroke", "symbolSize": 27225, "symbolStrokeWidth": 3, "labelFont": "Liberation Sans", "labelFontSize": 68, "labelColor": "#000000", "labelOffset": 14, "rowPadding": 14, "clipHeight": 70, "labelLimit": 2000, "titleFontSize": 0}
}
}
